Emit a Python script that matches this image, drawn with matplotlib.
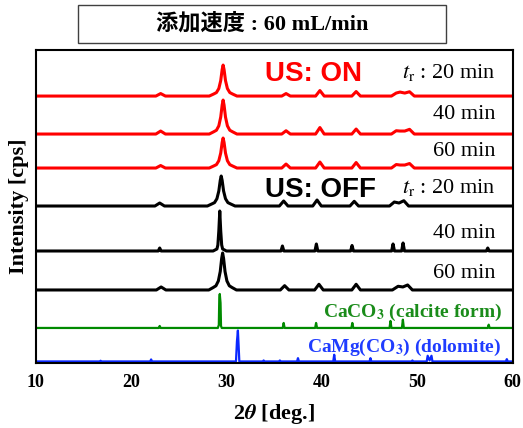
"""XRD patterns of precipitated carbonate at 60 mL/min feed rate, with and without ultrasound."""

import matplotlib

matplotlib.use("Agg")
import matplotlib.pyplot as plt
from matplotlib.patches import Rectangle

plt.rcParams["mathtext.fontset"] = "stix"

SERIF = "Liberation Serif"
SANS = "Liberation Sans"

# 2theta [deg] and intensity (counts above each trace's own baseline)
RED_20_X = [10.0, 22.6, 23.1, 23.6, 28.2, 28.65, 28.95, 29.2, 29.4, 29.55, 29.65, 29.75, 29.9, 30.1, 30.35,
            30.65, 31.1, 35.8, 36.25, 36.7, 39.35, 39.8, 40.25, 43.15, 43.6, 44.05, 47.3, 47.8, 48.2, 48.7,
            49.2, 49.7, 60.0]
RED_20_Y = [0, 0, 2.5, 0, 0, 2, 3.5, 7.5, 15.5, 26.5, 31, 26.5, 15.5, 7.5, 3.5,
            2, 0, 0, 2.5, 0, 0, 5.5, 0, 0, 4.5, 0, 0, 3, 4, 3,
            4.3, 0, 0]

RED_40_X = [10.0, 22.6, 23.1, 23.6, 28.2, 28.65, 28.95, 29.2, 29.4, 29.55, 29.65, 29.75, 29.9, 30.1, 30.35,
            30.65, 31.1, 35.8, 36.25, 36.7, 39.35, 39.8, 40.25, 43.15, 43.6, 44.05, 47.3, 47.8, 48.2, 48.7,
            49.2, 49.7, 60.0]
RED_40_Y = [0, 0, 3, 0, 0, 2.2, 3.8, 8.2, 17, 29, 34, 29, 17, 8.2, 3.8,
            2.2, 0, 0, 3.3, 0, 0, 6.5, 0, 0, 5, 0, 0, 3.3, 3, 3,
            4.7, 0, 0]

RED_60_X = [10.0, 22.6, 23.1, 23.6, 28.2, 28.65, 28.95, 29.2, 29.4, 29.55, 29.65, 29.75, 29.9, 30.1, 30.35,
            30.65, 31.1, 35.8, 36.25, 36.7, 39.35, 39.8, 40.25, 43.15, 43.6, 44.05, 47.3, 47.8, 48.2, 48.7,
            49.2, 49.7, 60.0]
RED_60_Y = [0, 0, 2.5, 0, 0, 2, 3.4, 7.3, 15, 25.6, 30, 25.6, 15, 7.3, 3.4,
            2, 0, 0, 4, 0, 0, 6, 0, 0, 5.5, 0, 0, 3.5, 3, 3,
            4.5, 0, 0]

BLACK_20_X = [10.0, 22.5, 23.0, 23.5, 28.0, 28.45, 28.75, 29.0, 29.2, 29.35, 29.45, 29.55, 29.7, 29.9, 30.15,
              30.45, 30.9, 35.55, 36.0, 36.45, 39.05, 39.5, 39.95, 42.95, 43.4, 43.85, 47.1, 47.6, 48.1, 48.6,
              49.1, 60.0]
BLACK_20_Y = [0, 0, 3, 0, 0, 2, 3.4, 7.3, 15, 25.6, 30, 25.6, 15, 7.3, 3.4,
              2, 0, 0, 5, 0, 0, 6, 0, 0, 4.7, 0, 0, 4, 3, 5.3,
              0, 0]

BLACK_40_X = [10.0, 22.85, 23.0, 23.15, 28.6, 29.0, 29.1, 29.2, 29.3, 29.4, 29.5, 29.6, 30.0, 35.72, 35.87,
              36.02, 39.28, 39.43, 39.58, 43.02, 43.17, 43.32, 47.32, 47.47, 47.62, 48.37, 48.52, 48.67, 57.25,
              57.4, 57.55, 60.0]
BLACK_40_Y = [0, 0, 3, 0, 0, 2, 6, 20, 40, 20, 6, 2, 0, 0, 5,
              0, 0, 7, 0, 0, 5.5, 0, 0, 7, 0, 0, 8, 0, 0,
              3, 0, 0]

BLACK_60_X = [10.0, 22.65, 23.15, 23.65, 28.15, 28.6, 28.9, 29.15, 29.35, 29.5, 29.6, 29.7, 29.85, 30.05, 30.3,
              30.6, 31.05, 35.65, 36.1, 36.55, 39.25, 39.7, 40.15, 43.15, 43.6, 44.05, 47.4, 48.0, 48.5, 49.0,
              49.5, 60.0]
BLACK_60_Y = [0, 0, 3, 0, 0, 2.4, 4.2, 9, 18.5, 31.6, 37, 31.6, 18.5, 9, 4.2,
              2.4, 0, 0, 4.3, 0, 0, 5.7, 0, 0, 5.7, 0, 0, 3.7, 3, 5,
              0, 0]

CALCITE_X = [10.0, 22.9, 23.0, 23.1, 29.1, 29.2, 29.25, 29.3, 29.38, 29.43, 29.5, 35.9, 36.0, 36.1, 39.3,
             39.4, 39.5, 43.1, 43.2, 43.3, 47.1, 47.2, 47.3, 48.4, 48.5, 48.6, 57.4, 57.5, 57.6, 60.0]
CALCITE_Y = [0, 0, 2, 0, 0, 3, 30, 34, 25, 2, 0, 0, 5, 0, 0,
             5, 0, 0, 5, 0, 0, 7, 0, 0, 8.3, 0, 0, 3.3, 0, 0]

DOLOMITE_X = [10.0, 16.7, 16.8, 16.9, 22.0, 22.1, 22.2, 31.0, 31.1, 31.2, 31.28, 31.35, 33.8, 33.9, 34.0,
              35.5, 35.6, 35.7, 37.4, 37.5, 37.6, 41.2, 41.3, 41.4, 45.0, 45.1, 45.2, 49.4, 49.5, 49.6,
              51.0, 51.1, 51.3, 51.5, 51.6, 59.3, 59.4, 59.5, 60.0]
DOLOMITE_Y = [0, 0, 0.7, 0, 0, 2, 0, 0, 20, 31, 15, 0, 0, 1, 0,
              0, 1, 0, 0, 3.3, 0, 0, 6.7, 0, 0, 3.3, 0, 0, 1, 0,
              0, 5.7, 1, 5.7, 0, 0, 2.3, 0, 0]

# vertical stacking of the traces, top to bottom
TRACES = [
    (RED_20_X, RED_20_Y, "#ff0000", 2.2),
    (RED_40_X, RED_40_Y, "#ff0000", 2.2),
    (RED_60_X, RED_60_Y, "#ff0000", 2.2),
    (BLACK_20_X, BLACK_20_Y, "black", 2.2),
    (BLACK_40_X, BLACK_40_Y, "black", 2.2),
    (BLACK_60_X, BLACK_60_Y, "black", 2.2),
    (CALCITE_X, CALCITE_Y, "#008a00", 1.6),
    (DOLOMITE_X, DOLOMITE_Y, "#0a28ff", 1.6),
]
OFFSETS = [267, 229, 195, 157, 112, 73, 35, 1.5]

X_TICKS = [10, 20, 30, 40, 50, 60]


def main() -> None:
    fig = plt.figure(figsize=(5.23, 4.28), dpi=100)
    ax = fig.add_axes([0.0683, 0.152, 0.9117, 0.731])

    for (x, y, color, lw), offset in zip(TRACES, OFFSETS):
        ax.plot(x, [v + offset for v in y], color=color, linewidth=lw, solid_joinstyle="round")

    ax.set_xlim(10, 60)
    ax.set_ylim(0, 313)
    ax.set_yticks([])
    ax.set_xticks(X_TICKS)
    ax.set_xticklabels([str(t) for t in X_TICKS], fontfamily=SERIF, fontweight="bold", fontsize=13)
    ax.tick_params(axis="x", length=0, pad=8)
    for spine in ax.spines.values():
        spine.set_linewidth(1.5)

    ax.set_xlabel(r"2$\mathbfit{\theta}$ [deg.]", fontfamily=SERIF, fontweight="bold", fontsize=16,
                  labelpad=8)
    ax.set_ylabel("Intensity [cps]", fontfamily=SERIF, fontweight="bold", fontsize=16, labelpad=5)

    # condition labels
    ax.text(34.05, 282, "US: ON", color="#ff0000", fontfamily=SANS, fontweight="bold", fontsize=20)
    ax.text(34.05, 166, "US: OFF", color="black", fontfamily=SANS, fontweight="bold", fontsize=20)

    time_kw = dict(fontfamily=SERIF, fontsize=16, ha="right", color="black")
    ax.text(58.2, 285.5, r"$t_{\mathrm{r}}$ : 20 min", **time_kw)
    ax.text(58.2, 244, "40 min", **time_kw)
    ax.text(58.2, 207, "60 min", **time_kw)
    ax.text(58.2, 170, r"$t_{\mathrm{r}}$ : 20 min", **time_kw)
    ax.text(58.2, 125, "40 min", **time_kw)
    ax.text(58.2, 85, "60 min", **time_kw)

    ref_kw = dict(fontfamily=SERIF, fontweight="bold", fontsize=14, ha="right")
    ax.text(58.9, 46, r"CaCO$_\mathbf{3}$ (calcite form)", color="#1a8c1a", **ref_kw)
    ax.text(58.8, 11, r"CaMg(CO$_\mathbf{3}$) (dolomite)", color="#1f3cff", **ref_kw)

    # boxed title above the axes
    fig.patches.append(Rectangle((0.149, 0.8995), 0.704, 0.0885, transform=fig.transFigure,
                                 fill=False, edgecolor="#404040", linewidth=1.0))
    fig.text(0.501, 0.944, "添加速度 : 60 mL/min", ha="center", va="center",
             fontfamily=[SERIF, "Noto Sans CJK JP"], fontweight="bold", fontsize=16)

    fig.savefig("out.png", dpi=100)


if __name__ == "__main__":
    main()
